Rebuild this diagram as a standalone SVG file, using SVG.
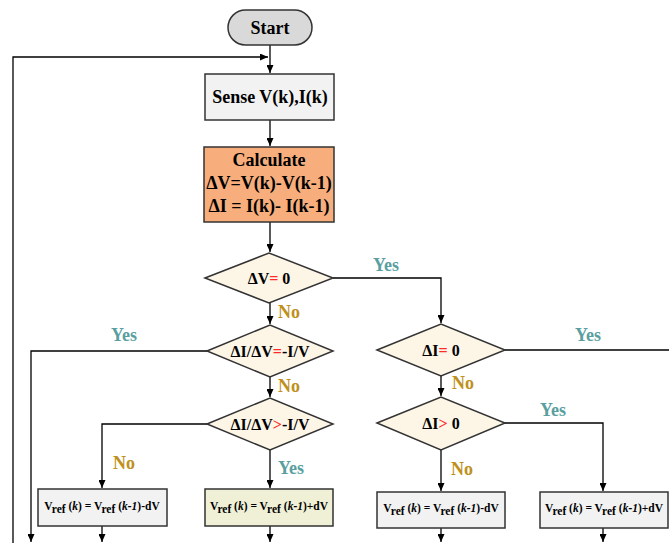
<svg xmlns="http://www.w3.org/2000/svg" width="669" height="543" viewBox="0 0 669 543">
<style>
text{font-family:"Liberation Serif","Times New Roman",serif;font-weight:bold;fill:#000}
.c{text-anchor:middle}
.t16{font-size:16px}
.t18{font-size:18px}
.yes{fill:#5a9fa0;font-size:18px}
.no{fill:#c0901c;font-size:18px}
.red{fill:#ff2a2a}
.box{stroke:#333;stroke-width:1.5}
.dia{fill:#fdf6e7;stroke:#333;stroke-width:1.5}
.ln{fill:none;stroke:#000;stroke-width:1.3}
.bt{font-size:11.5px}
.it{font-style:italic}
</style>
<defs>
<marker id="ah" markerUnits="userSpaceOnUse" markerWidth="8" markerHeight="7" refX="8" refY="3.5" orient="auto">
<path d="M0,0 L8,3.5 L0,7 z" fill="#000"/>
</marker>
</defs>

<g id="connectors">
<path class="ln" d="M270,45 V73" marker-end="url(#ah)"/>
<path class="ln" d="M13,543 V57 H268" marker-end="url(#ah)"/>
<path class="ln" d="M270,120 V146" marker-end="url(#ah)"/>
<path class="ln" d="M270,222 V252" marker-end="url(#ah)"/>
<path class="ln" d="M333,278 H441 V323" marker-end="url(#ah)"/>
<path class="ln" d="M270,303 V324" marker-end="url(#ah)"/>
<path class="ln" d="M207,351 H31 V542" marker-end="url(#ah)"/>
<path class="ln" d="M270,377 V397" marker-end="url(#ah)"/>
<path class="ln" d="M207,424 H102 V488" marker-end="url(#ah)"/>
<path class="ln" d="M270,450 V488" marker-end="url(#ah)"/>
<path class="ln" d="M505,350 H669"/>
<path class="ln" d="M441,376 V396" marker-end="url(#ah)"/>
<path class="ln" d="M505,423 H603 V491" marker-end="url(#ah)"/>
<path class="ln" d="M441,450 V491" marker-end="url(#ah)"/>
<path class="ln" d="M102,526 V542" marker-end="url(#ah)"/>
<path class="ln" d="M270,526 V542" marker-end="url(#ah)"/>
<path class="ln" d="M441,528 V542" marker-end="url(#ah)"/>
<path class="ln" d="M603,528 V542" marker-end="url(#ah)"/>
</g>

<g id="labels">
<text class="yes c" x="386" y="271">Yes</text>
<text class="no c" x="289" y="318">No</text>
<text class="no c" x="289" y="392">No</text>
<text class="yes c" x="124" y="341">Yes</text>
<text class="no c" x="124" y="469">No</text>
<text class="yes c" x="291" y="474">Yes</text>
<text class="yes c" x="588" y="341">Yes</text>
<text class="no c" x="463" y="389">No</text>
<text class="yes c" x="553" y="416">Yes</text>
<text class="no c" x="462" y="475">No</text>
</g>

<g id="start">
<rect x="228" y="10" width="84" height="35" rx="17.5" fill="#d9d9d9" class="box"/>
<text class="c t18" x="270" y="34">Start</text>
</g>

<g id="sense">
<rect x="205" y="74" width="129" height="46" fill="#f2f2f2" class="box"/>
<text class="c t18" x="270" y="103">Sense V(k),I(k)</text>
</g>

<g id="calculate">
<rect x="204" y="147" width="130" height="75" fill="#f7ae7c" class="box"/>
<text class="c t18" x="269" y="166">Calculate</text>
<text class="c t18" x="269" y="189">ΔV=V(k)-V(k-1)</text>
<text class="c t18" x="269" y="212">ΔI = I(k)- I(k-1)</text>
</g>

<g id="d1">
<polygon class="dia" points="205,278 269,253 333,278 269,303"/>
<text class="c t16" x="269" y="284">ΔV<tspan class="red">=</tspan> 0</text>
</g>

<g id="d2">
<polygon class="dia" points="207,351 270,325 333,351 270,377"/>
<text class="c t16" x="270" y="357">ΔI/ΔV<tspan class="red">=</tspan>-I/V</text>
</g>

<g id="d3">
<polygon class="dia" points="207,424 270,398 333,424 270,450"/>
<text class="c t16" x="270" y="430">ΔI/ΔV<tspan class="red">&gt;</tspan>-I/V</text>
</g>

<g id="d4">
<polygon class="dia" points="377,350 441,324 505,350 441,376"/>
<text class="c t16" x="441" y="356">ΔI<tspan class="red">=</tspan> 0</text>
</g>

<g id="d5">
<polygon class="dia" points="377,423 441,397 505,423 441,450"/>
<text class="c t16" x="441" y="429">ΔI<tspan class="red">&gt;</tspan> 0</text>
</g>

<g id="b1">
<rect x="38" y="489" width="129" height="37" fill="#f2f2f2" class="box"/>
<text class="c bt" x="102" y="510">V<tspan dy="3">ref</tspan><tspan dy="-3"> (</tspan><tspan class="it">k</tspan>) = V<tspan dy="3">ref</tspan><tspan dy="-3"> (</tspan><tspan class="it">k-1</tspan>)-dV</text>
</g>

<g id="b2">
<rect x="205" y="489" width="128" height="37" fill="#eff0d6" class="box"/>
<text class="c bt" x="269" y="510">V<tspan dy="3">ref</tspan><tspan dy="-3"> (</tspan><tspan class="it">k</tspan>) = V<tspan dy="3">ref</tspan><tspan dy="-3"> (</tspan><tspan class="it">k-1</tspan>)+dV</text>
</g>

<g id="b3">
<rect x="377" y="492" width="128" height="36" fill="#f2f2f2" class="box"/>
<text class="c bt" x="441" y="512">V<tspan dy="3">ref</tspan><tspan dy="-3"> (</tspan><tspan class="it">k</tspan>) = V<tspan dy="3">ref</tspan><tspan dy="-3"> (</tspan><tspan class="it">k-1</tspan>)-dV</text>
</g>

<g id="b4">
<rect x="540" y="492" width="128" height="36" fill="#f2f2f2" class="box"/>
<text class="c bt" x="604" y="512">V<tspan dy="3">ref</tspan><tspan dy="-3"> (</tspan><tspan class="it">k</tspan>) = V<tspan dy="3">ref</tspan><tspan dy="-3"> (</tspan><tspan class="it">k-1</tspan>)+dV</text>
</g>
</svg>
